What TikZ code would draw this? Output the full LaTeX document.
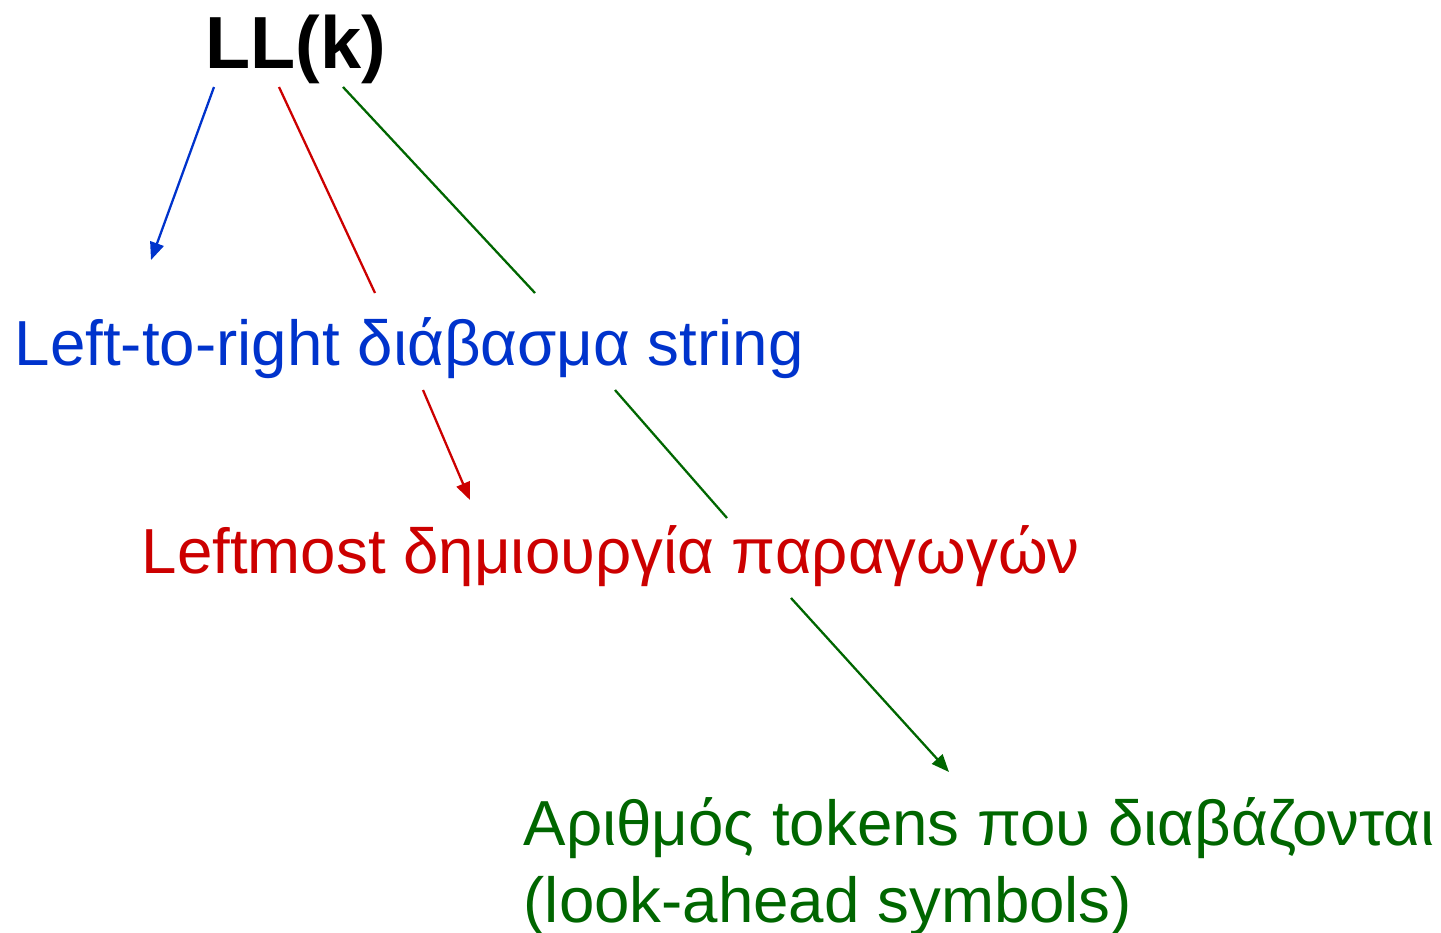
\documentclass[tikz,border=0pt]{standalone}
\usepackage{fontspec}
\setmainfont{Liberation Sans}
\usetikzlibrary{arrows.meta,positioning}
\definecolor{llblue}{RGB}{0,51,204}
\definecolor{llred}{RGB}{204,0,0}
\definecolor{llgreen}{RGB}{0,102,0}

\begin{document}
\begin{tikzpicture}[x=0.01cm, y=-0.01cm,
    reading/.style={anchor=base west, inner sep=0pt, font=\fontsize{18.1}{21.8}\selectfont},
    link/.style={line width=0.65pt},
    pointer/.style={link, -{Triangle[length=5pt,width=4pt]}}
]
    \useasboundingbox (0,0) rectangle (1441,933);

    % Title
    \node[anchor=base west, inner sep=0pt, font=\bfseries\fontsize{21}{25}\selectfont] (ll) at (205,68) {LL(k)};

    % What the letters stand for
    \node[reading, text=llblue] (read) at (14,365) {Left-to-right διάβασμα string};
    \node[reading, text=llred] (deriv) at (141,573) {Leftmost δημιουργία παραγωγών};
    \node[reading, text=llgreen, align=left] (look) at (523,922) {Αριθμός tokens που διαβάζονται\\(look-ahead symbols)};

    % Ends of the connectors
    \coordinate (ll-l) at (214,87);
    \coordinate (ll-m) at (279,87);
    \coordinate (ll-r) at (343,87);
    \coordinate (read-in) at (151,260);
    \coordinate (read-m) at (375,293);
    \coordinate (read-r) at (535,293);
    \coordinate (read-mo) at (423,390);
    \coordinate (read-ro) at (615,390);
    \coordinate (deriv-in) at (470,500);
    \coordinate (deriv-r) at (727,518);
    \coordinate (deriv-ro) at (791,598);
    \coordinate (look-in) at (949,772);

    % Connectors
    \draw[pointer, llblue] (ll-l) -- (read-in);
    \draw[link, llred] (ll-m) -- (read-m);
    \draw[pointer, llred] (read-mo) -- (deriv-in);
    \draw[link, llgreen] (ll-r) -- (read-r);
    \draw[link, llgreen] (read-ro) -- (deriv-r);
    \draw[pointer, llgreen] (deriv-ro) -- (look-in);
\end{tikzpicture}
\end{document}
